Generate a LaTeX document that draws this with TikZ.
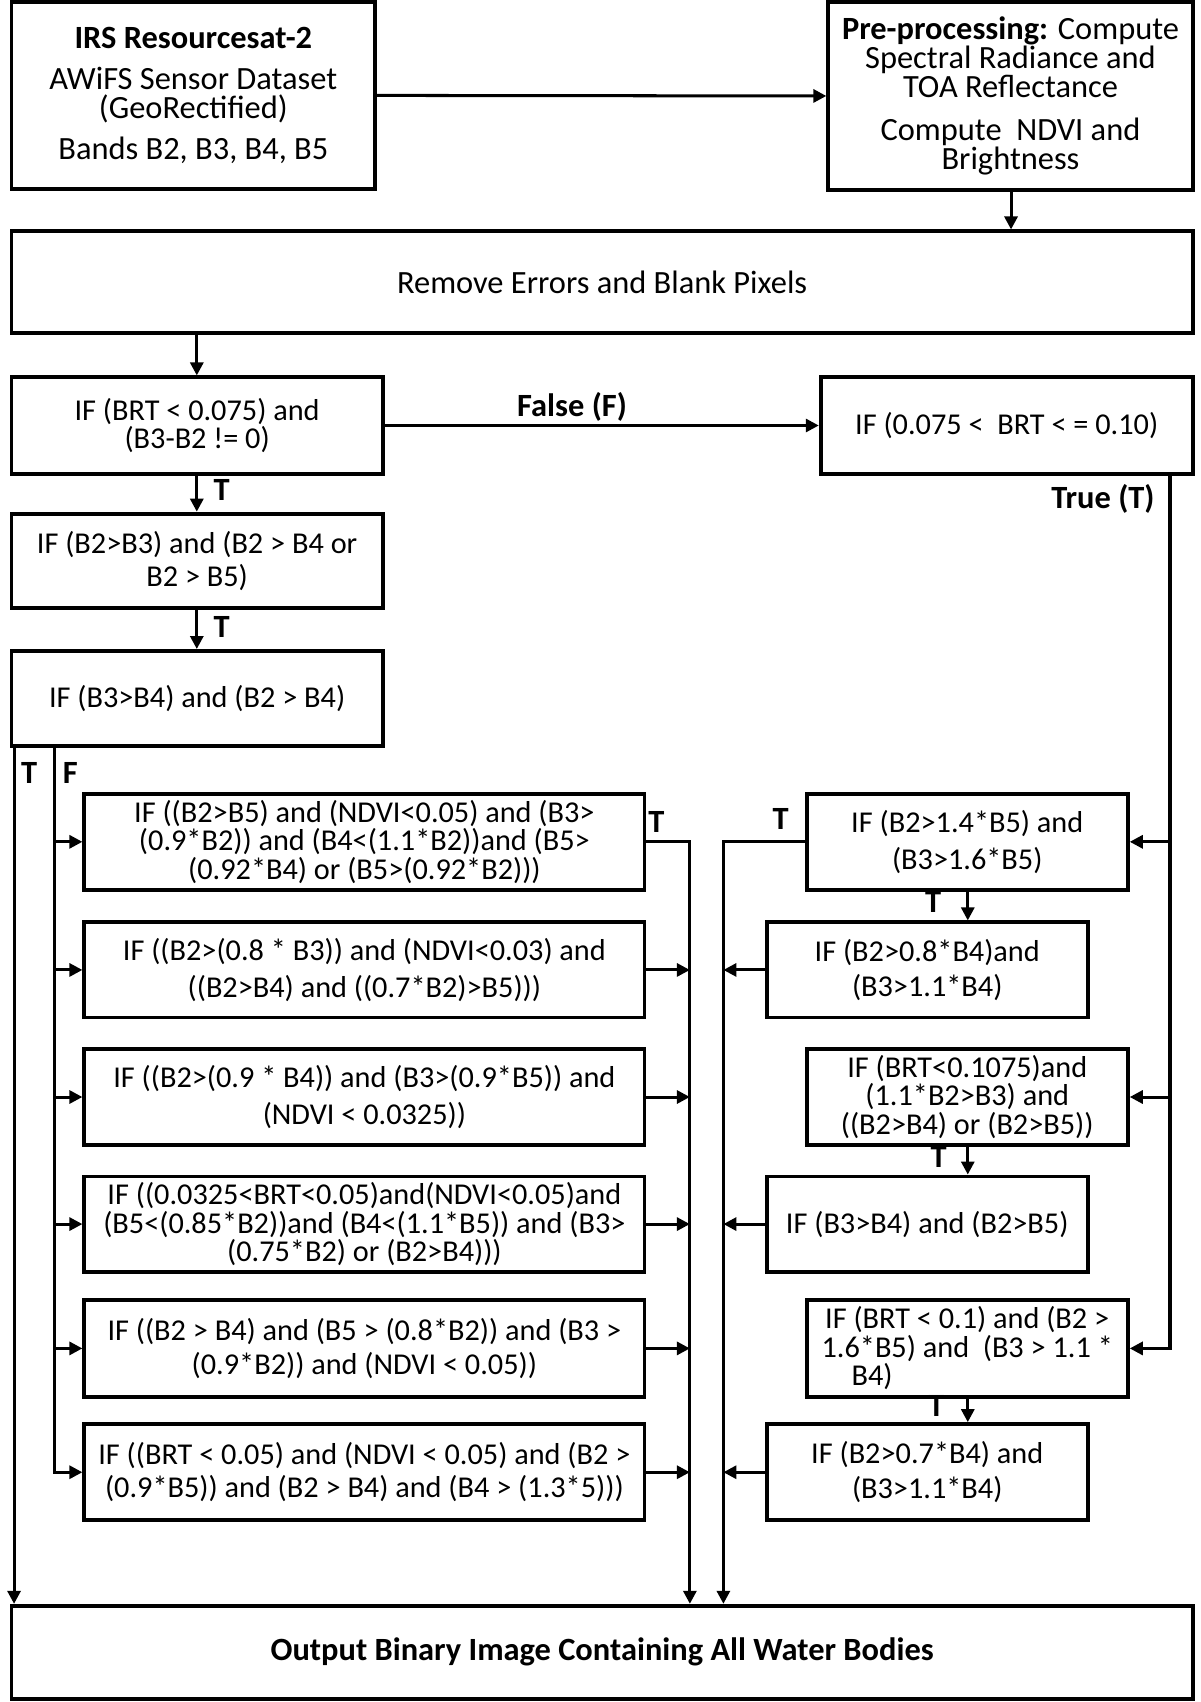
\documentclass[tikz,border=0pt]{standalone}
\usepackage{fontspec}
\setmainfont{Carlito}
\usetikzlibrary{arrows.meta,calc}
\begin{document}
\begin{tikzpicture}[x=0.5pt,y={(0pt,-0.5pt)},
  box/.style={draw, line width=1.8pt, inner sep=0pt, align=center, font=\fontsize{14}{16}\selectfont},
  bb/.style n args={4}{minimum width={(#3-#1)*0.5pt}, minimum height={(#4-#2)*0.5pt}, at={({(#1+#3)/2},{(#2+#4)/2})}},
  ln/.style={line width=1.4pt},
  arr/.style={line width=1.4pt, -{Triangle[length=6pt,width=6pt]}},
  lbl/.style={font=\fontsize{15}{15}\selectfont\bfseries, inner sep=0pt},
]
\useasboundingbox (0,0) rectangle (1110,1574);
% coordinates for vertical runs
\coordinate (tx) at (13,0);
\coordinate (fx) at (50,0);
\coordinate (cl) at (638,0);
\coordinate (cr) at (669,0);
\coordinate (ex) at (1082,0);
\coordinate (rx) at (895,0);
\coordinate (dx) at (182,0);
\coordinate (bx) at (935,0);
% top
\node[box, bb={10.6}{1.5}{347}{175}, font=\fontsize{15}{13.2}\selectfont] (A)
  {\textbf{IRS Resourcesat-2}\\[5.8pt] AWiFS Sensor Dataset\\ (GeoRectified)\\[5.8pt] Bands B2, B3, B4, B5};
\node[box, bb={766}{1.5}{1103}{176}, font=\fontsize{15}{13.5}\selectfont] (B)
  {\textbf{Pre-processing:} Compute\\ Spectral Radiance and\\ TOA Reflectance\\[6.5pt] Compute~~NDVI and\\ Brightness};
\node[box, bb={10.6}{214}{1103}{308}, font=\fontsize{15}{16}\selectfont] (C) {Remove Errors and Blank Pixels};
\node[box, bb={10.6}{349}{354}{438}, font=\fontsize{14}{11.5}\selectfont] (D)
  {IF (BRT < 0.075) and\\ (B3-B2 != 0)};
\node[box, bb={759}{349}{1103}{438}] (E) {IF (0.075 <~ BRT < = 0.10)};
\node[box, bb={10.6}{475}{354}{562}, font=\fontsize{14}{15.25}\selectfont] (F)
  {IF (B2>B3) and (B2 > B4 or\\ B2 > B5)};
\node[box, bb={10.6}{602}{354}{690}] (G) {IF (B3>B4) and (B2 > B4)};
% left column
\node[box, bb={78}{734}{596}{823}, font=\fontsize{14}{11.5}\selectfont] (L1)
  {IF ((B2>B5) and (NDVI<0.05) and (B3>\\ (0.9*B2)) and (B4<(1.1*B2))and (B5>\\ (0.92*B4) or (B5>(0.92*B2)))};
\node[box, bb={78}{853}{596}{941}, font=\fontsize{14}{17}\selectfont] (L2)
  {IF ((B2>(0.8 * B3)) and (NDVI<0.03) and\\ ((B2>B4) and ((0.7*B2)>B5)))};
\node[box, bb={78}{970}{596}{1059}, font=\fontsize{14}{17}\selectfont] (L3)
  {IF ((B2>(0.9 * B4)) and (B3>(0.9*B5)) and\\ (NDVI < 0.0325))};
\node[box, bb={78}{1088}{596}{1176}, font=\fontsize{14}{11.5}\selectfont] (L4)
  {IF ((0.0325<BRT<0.05)and(NDVI<0.05)and\\ (B5<(0.85*B2))and (B4<(1.1*B5)) and (B3>\\ (0.75*B2) or (B2>B4)))};
\node[box, bb={78}{1202}{596}{1292}, font=\fontsize{14}{15.5}\selectfont] (L5)
  {IF ((B2 > B4) and (B5 > (0.8*B2)) and (B3 >\\ (0.9*B2)) and (NDVI < 0.05))};
\node[box, bb={78}{1317}{596}{1406}, font=\fontsize{14}{15.5}\selectfont] (L6)
  {IF ((BRT < 0.05) and (NDVI < 0.05) and (B2 >\\ (0.9*B5)) and (B2 > B4) and (B4 > (1.3*5)))};
% right column
\node[box, bb={746}{734}{1043}{823}, font=\fontsize{14}{17}\selectfont] (R1)
  {IF (B2>1.4*B5) and\\ (B3>1.6*B5)};
\node[box, bb={709}{853}{1006}{941}, font=\fontsize{14}{16.25}\selectfont] (R2)
  {IF (B2>0.8*B4)and\\ (B3>1.1*B4)};
\node[box, bb={746}{970}{1043}{1059}, font=\fontsize{14}{10.75}\selectfont] (R3)
  {IF (BRT<0.1075)and\\ (1.1*B2>B3) and\\ ((B2>B4) or (B2>B5))};
\node[box, bb={709}{1088}{1006}{1176}] (R4) {IF (B3>B4) and (B2>B5)};
\node[box, bb={746}{1202}{1043}{1292}, font=\fontsize{14}{11.25}\selectfont] (R5)
  {IF (BRT < 0.1) and (B2 >\\ 1.6*B5) and~~(B3 > 1.1 *\\ \makebox[107pt][l]{B4)}};
\node[box, bb={709}{1317}{1006}{1406}, font=\fontsize{14}{16}\selectfont] (R6)
  {IF (B2>0.7*B4) and\\ (B3>1.1*B4)};
% output
\node[box, bb={10.6}{1485}{1103}{1571}, font=\fontsize{15}{16}\selectfont\bfseries] (O)
  {Output Binary Image Containing All Water Bodies};
% connectors
\draw[arr] (A.east) -- (B.west);
\draw[arr] (B.south -| bx) -- (C.north -| bx);
\draw[arr] (C.south -| dx) -- (D.north -| dx);
\draw[arr] (D.east) -- (E.west);
\node[lbl] (lf) at (529,376) {False (F)};
\draw[arr] (D.south -| dx) -- (F.north -| dx);
\node[lbl] (t1) at (205,453) {T};
\draw[arr] (F.south -| dx) -- (G.north -| dx);
\node[lbl] (t2) at (205,580) {T};
\draw[arr] (G.south -| tx) -- (O.north -| tx);
\node[lbl] (t3) at (27,715) {T};
\draw[arr] (G.south -| fx) |- (L6.west);
\node[lbl] (f1) at (65,715) {F};
\foreach \n in {L1,L2,L3,L4,L5} {\draw[arr] (\n.west -| fx) -- (\n.west);}
\draw[arr] (L1.east) -| (O.north -| cl);
\node[lbl] (t4) at (607,760) {T};
\foreach \n in {L2,L3,L4,L5,L6} {\draw[arr] (\n.east) -- (\n.east -| cl);}
\draw[arr] (R1.west) -| (O.north -| cr);
\node[lbl] (t5) at (722,757) {T};
\foreach \n in {R2,R4,R6} {\draw[arr] (\n.west) -- (\n.west -| cr);}
\draw[arr] (E.south -| ex) |- (R5.east);
\node[lbl] (lt) at (1020,461) {True (T)};
\foreach \n in {R1,R3} {\draw[arr] (\n.east -| ex) -- (\n.east);}
\draw[arr] (R1.south -| rx) -- (R2.north -| rx);
\node[lbl] (t6) at (863,834) {T};
\draw[arr] (R3.south -| rx) -- (R4.north -| rx);
\node[lbl] (t7) at (868,1070) {T};
\draw[arr] (R5.south -| rx) -- (R6.north -| rx);
\node[lbl] (t8) at (866,1300) {T};
\end{tikzpicture}
\end{document}
